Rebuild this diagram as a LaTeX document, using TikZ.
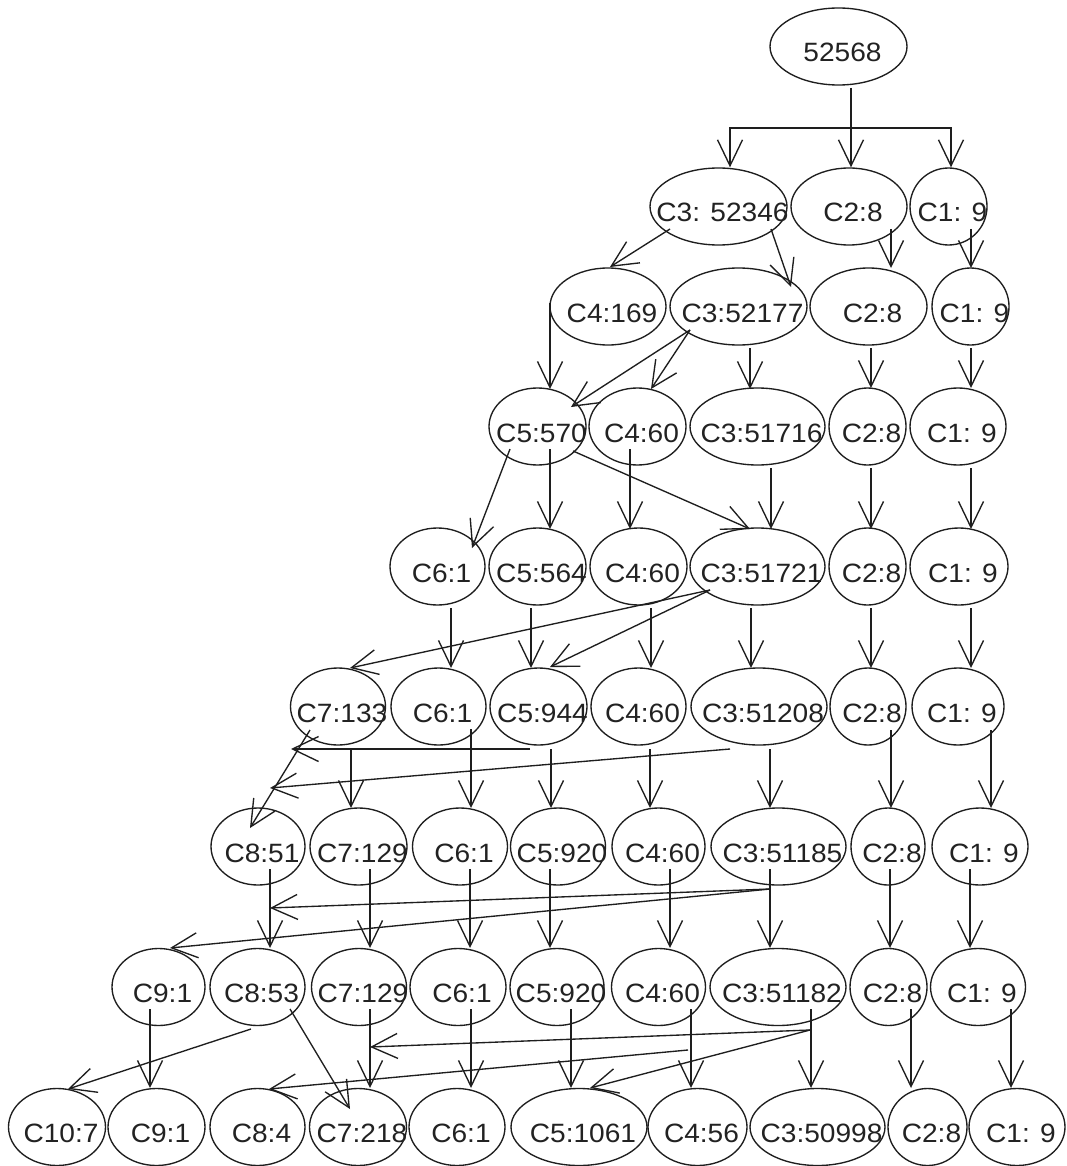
\documentclass[tikz,border=0pt]{standalone}
\usepackage{fontspec}
\setmainfont{Liberation Sans}[FakeStretch=1.06]
\usetikzlibrary{shapes.geometric,arrows.meta,calc}
\definecolor{lc}{HTML}{1E1E1E}
\definecolor{tc}{HTML}{222222}
\newcommand{\lb}[1]{\smash{\makebox[0pt]{\hspace*{8pt}\raisebox{-15.5pt}{#1}}}}
\tikzset{
  ell/.style={draw=lc, line width=1.35pt, shape=ellipse, inner sep=0pt,
    minimum height=77pt, font=\fontsize{26.5}{30}\selectfont, text=tc},
  ln/.style={draw=lc, line width=1.35pt},
  arr/.style={draw=lc, line width=1.35pt,
    -{Straight Barb[length=26pt,width=25pt,line width=1.35pt]}},
}
\begin{document}
\begin{tikzpicture}[x=1pt,y=-1pt]
\fill[white] (0,0) rectangle (1066,1166);
\useasboundingbox (0,0) rectangle (1066,1166);

% row 0
\node[ell,minimum width=137pt] (r) at (838.5,46.5) {\lb{52568}};
% row 1
\node[ell,minimum width=137pt] (a3) at (718.5,206.5) {\lb{C3: 52346}};
\node[ell,minimum width=116pt] (a2) at (849,206.5) {\lb{C2:8}};
\node[ell,minimum width=77pt]  (a1) at (948.5,206.5) {\lb{C1: 9}};
% row 2
\node[ell,minimum width=116pt] (b4) at (608,306.5) {\lb{C4:169}};
\node[ell,minimum width=137pt] (b3) at (738.5,306.5) {\lb{C3:52177}};
\node[ell,minimum width=117pt] (b2) at (868.5,306.5) {\lb{C2:8}};
\node[ell,minimum width=77pt]  (b1) at (970.5,306.5) {\lb{C1: 9}};
% row 3
\node[ell,minimum width=97pt]  (c5) at (537.5,426.5) {\lb{C5:570}};
\node[ell,minimum width=97pt]  (c4) at (637.5,426.5) {\lb{C4:60}};
\node[ell,minimum width=135pt] (c3) at (757.5,426.5) {\lb{C3:51716}};
\node[ell,minimum width=77pt]  (c2) at (867.5,426.5) {\lb{C2:8}};
\node[ell,minimum width=96pt]  (c1) at (958,426.5) {\lb{C1: 9}};
% row 4
\node[ell,minimum width=95pt]  (d6) at (437.5,566.5) {\lb{C6:1}};
\node[ell,minimum width=97pt]  (d5) at (537.5,566.5) {\lb{C5:564}};
\node[ell,minimum width=97pt]  (d4) at (638.5,566.5) {\lb{C4:60}};
\node[ell,minimum width=135pt] (d3) at (757.5,566.5) {\lb{C3:51721}};
\node[ell,minimum width=77pt]  (d2) at (867.5,566.5) {\lb{C2:8}};
\node[ell,minimum width=98pt]  (d1) at (959,566.5) {\lb{C1: 9}};
% row 5
\node[ell,minimum width=95pt]  (e7) at (338,706.5) {\lb{C7:133}};
\node[ell,minimum width=95pt]  (e6) at (438.5,706.5) {\lb{C6:1}};
\node[ell,minimum width=97pt]  (e5) at (538.5,706.5) {\lb{C5:944}};
\node[ell,minimum width=95pt]  (e4) at (638.5,706.5) {\lb{C4:60}};
\node[ell,minimum width=136pt] (e3) at (759,706.5) {\lb{C3:51208}};
\node[ell,minimum width=76pt]  (e2) at (868,706.5) {\lb{C2:8}};
\node[ell,minimum width=92pt]  (e1) at (958,706.5) {\lb{C1: 9}};
% row 6
\node[ell,minimum width=94pt]  (f8) at (258,846.5) {\lb{C8:51}};
\node[ell,minimum width=97pt]  (f7) at (358.5,846.5) {\lb{C7:129}};
\node[ell,minimum width=95pt]  (f6) at (460,846.5) {\lb{C6:1}};
\node[ell,minimum width=95pt]  (f5) at (558,846.5) {\lb{C5:920}};
\node[ell,minimum width=93pt]  (f4) at (658.5,846.5) {\lb{C4:60}};
\node[ell,minimum width=135pt] (f3) at (778.5,846.5) {\lb{C3:51185}};
\node[ell,minimum width=74pt]  (f2) at (888,846.5) {\lb{C2:8}};
\node[ell,minimum width=96pt]  (f1) at (980,846.5) {\lb{C1: 9}};
% row 7
\node[ell,minimum width=93pt]  (g9) at (158.5,987) {\lb{C9:1}};
\node[ell,minimum width=95pt]  (g8) at (257.5,987) {\lb{C8:53}};
\node[ell,minimum width=95pt]  (g7) at (359,987) {\lb{C7:129}};
\node[ell,minimum width=96pt]  (g6) at (458,987) {\lb{C6:1}};
\node[ell,minimum width=94pt]  (g5) at (557,987) {\lb{C5:920}};
\node[ell,minimum width=94pt]  (g4) at (658.5,987) {\lb{C4:60}};
\node[ell,minimum width=136pt] (g3) at (778,987) {\lb{C3:51182}};
\node[ell,minimum width=77pt]  (g2) at (888.5,987) {\lb{C2:8}};
\node[ell,minimum width=95pt]  (g1) at (978,987) {\lb{C1: 9}};
% row 8
\node[ell,minimum width=97pt]  (h10) at (57,1127) {\lb{C10:7}};
\node[ell,minimum width=97pt]  (h9) at (156.5,1127) {\lb{C9:1}};
\node[ell,minimum width=95pt]  (h8) at (257.5,1127) {\lb{C8:4}};
\node[ell,minimum width=97pt]  (h7) at (358,1127) {\lb{C7:218}};
\node[ell,minimum width=96pt]  (h6) at (457,1127) {\lb{C6:1}};
\node[ell,minimum width=136pt] (h5) at (579,1127) {\lb{C5:1061}};
\node[ell,minimum width=99pt]  (h4) at (697.5,1127) {\lb{C4:56}};
\node[ell,minimum width=135pt] (h3) at (817.5,1127) {\lb{C3:50998}};
\node[ell,minimum width=79pt]  (h2) at (927.5,1127) {\lb{C2:8}};
\node[ell,minimum width=96pt]  (h1) at (1017,1127) {\lb{C1: 9}};

% root fork
\coordinate (fk) at ($(r)+(12.5,81.5)$);
\draw[ln] ($(r)+(12.5,41.5)$) -- (fk);
\draw[arr] (fk) -| ($(a3.north)+(11.5,0)$);
\draw[arr] (fk) -- ($(a2.north)+(2,0)$);
\draw[arr] (fk) -| ($(a1.north)+(2.5,0)$);

% row 1 -> 2
\draw[arr] ($(a3)+(-48.5,22.5)$) -- ($(b4)+(2,-39.5)$);
\draw[arr] ($(a3)+(52.5,22.5)$) -- ($(b3)+(52.5,-19.5)$);
\draw[arr] ($(a2)+(42,22.5)$) -- ($(b2)+(22.5,-38.5)$);
\draw[arr] ($(a1)+(22.5,22.5)$) -- ($(b1)+(0.5,-38.5)$);

% row 2 -> 3
\draw[arr] ($(b4)+(-58,-3.5)$) -- ($(c5)+(12.5,-37.5)$);
\draw[arr] ($(b3)+(-48.5,23.5)$) -- ($(c5)+(33.5,-19.5)$);
\draw[arr] ($(b3)+(-48.5,23.5)$) -- ($(c4)+(13.5,-37.5)$);
\draw[arr] ($(b3)+(11.5,41.5)$) -- ($(c3)+(-7.5,-37.5)$);
\draw[arr] ($(b2)+(2.5,41.5)$) -- ($(c2)+(3.5,-38.5)$);
\draw[arr] ($(b1)+(0.5,41.5)$) -- ($(c1)+(13,-38.5)$);

% row 3 -> 4
\draw[arr] ($(c5)+(-27.5,22.5)$) -- ($(d6)+(34.5,-18.5)$);
\draw[arr] ($(c5)+(12.5,22.5)$) -- ($(d5)+(12.5,-37.5)$);
\draw[arr] ($(c4)+(-7.5,22.5)$) -- ($(d4)+(-8.5,-37.5)$);
\draw[arr] ($(c5)+(35.5,24.5)$) -- ($(d3)+(-7.5,-37.5)$);
\draw[arr] ($(c3)+(13.5,41.5)$) -- ($(d3)+(13.5,-37.5)$);
\draw[arr] ($(c2)+(3.5,41.5)$) -- ($(d2)+(3.5,-37.5)$);
\draw[arr] ($(c1)+(13,41.5)$) -- ($(d1)+(12,-37.5)$);

% row 4 -> 5
\draw[arr] ($(d3)+(-47.5,23.5)$) -- ($(e7)+(12,-38.5)$);
\draw[arr] ($(d3)+(-47.5,23.5)$) -- ($(e5)+(11.5,-39.5)$);
\draw[arr] ($(d6)+(13.5,41.5)$) -- ($(e6)+(12.5,-38.5)$);
\draw[arr] ($(d5)+(-6.5,41.5)$) -- ($(e5)+(-7.5,-38.5)$);
\draw[arr] ($(d4)+(12.5,41.5)$) -- ($(e4)+(12.5,-38.5)$);
\draw[arr] ($(d3)+(-6.5,41.5)$) -- ($(e3)+(-8,-38.5)$);
\draw[arr] ($(d2)+(3.5,41.5)$) -- ($(e2)+(3,-38.5)$);
\draw[arr] ($(d1)+(12,41.5)$) -- ($(e1)+(13,-38.5)$);

% row 5 -> 6
\draw[arr] ($(e7)+(-28,23.5)$) -- ($(f8)+(-8,-18.5)$);
\draw[arr] ($(e5)+(-8.5,42.5)$) -- ($(f8)+(33,-97.5)$);
\draw[arr] ($(e3)+(-29,42.5)$) -- ($(f8)+(12,-58.5)$);
\draw[arr] ($(e7)+(13,42.5)$) -- ($(f7)+(-7.5,-38.5)$);
\draw[arr] ($(e6)+(32.5,22.5)$) -- ($(f6)+(11,-38.5)$);
\draw[arr] ($(e5)+(12.5,42.5)$) -- ($(f5)+(-7,-38.5)$);
\draw[arr] ($(e4)+(11.5,42.5)$) -- ($(f4)+(-8.5,-38.5)$);
\draw[arr] ($(e3)+(11,42.5)$) -- ($(f3)+(-8.5,-38.5)$);
\draw[arr] ($(e2)+(23,23.5)$) -- ($(f2)+(3,-38.5)$);
\draw[arr] ($(e1)+(33,23.5)$) -- ($(f1)+(11,-38.5)$);

% row 6 -> 7
\draw[arr] ($(f3)+(-8.5,42.5)$) -- ($(g8)+(12.5,-79)$);
\draw[arr] ($(f3)+(-8.5,42.5)$) -- ($(g9)+(11.5,-39)$);
\draw[arr] ($(f8)+(12,22.5)$) -- ($(g8)+(12.5,-39)$);
\draw[arr] ($(f7)+(11.5,22.5)$) -- ($(g7)+(11,-39)$);
\draw[arr] ($(f6)+(10,22.5)$) -- ($(g6)+(12,-39)$);
\draw[arr] ($(f5)+(-8,22.5)$) -- ($(g5)+(-7,-39)$);
\draw[arr] ($(f4)+(11.5,22.5)$) -- ($(g4)+(11.5,-39)$);
\draw[arr] ($(f3)+(-8.5,22.5)$) -- ($(g3)+(-8,-39)$);
\draw[arr] ($(f2)+(2,22.5)$) -- ($(g2)+(1.5,-39)$);
\draw[arr] ($(f1)+(-10,22.5)$) -- ($(g1)+(-8,-39)$);

% row 7 -> 8
\draw[arr] ($(g8)+(-6.5,42)$) -- ($(h10)+(11,-38)$);
\draw[arr] ($(g8)+(32.5,22)$) -- ($(h7)+(-8,-18)$);
\draw[arr] ($(g9)+(-8.5,22)$) -- ($(h9)+(-6.5,-39)$);
\draw[arr] ($(g7)+(11,22)$) -- ($(h7)+(12,-39)$);
\draw[arr] ($(g6)+(13,22)$) -- ($(h6)+(14,-39)$);
\draw[arr] ($(g5)+(14,22)$) -- ($(h5)+(-8,-39)$);
\draw[arr] ($(g4)+(32.5,22)$) -- ($(h4)+(-6.5,-39)$);
\draw[arr] ($(g3)+(33,22)$) -- ($(h3)+(-6.5,-39)$);
\draw[arr] ($(g2)+(22.5,22)$) -- ($(h2)+(-16.5,-39)$);
\draw[arr] ($(g1)+(33,22)$) -- ($(h1)+(-6,-39)$);
\draw[arr] ($(g3)+(32,43)$) -- ($(h7)+(12,-80)$);
\draw[arr] ($(g4)+(29.5,63)$) -- ($(h8)+(11.5,-38)$);
\draw[arr] ($(g3)+(32,43)$) -- ($(h5)+(11,-39)$);
\end{tikzpicture}
\end{document}
